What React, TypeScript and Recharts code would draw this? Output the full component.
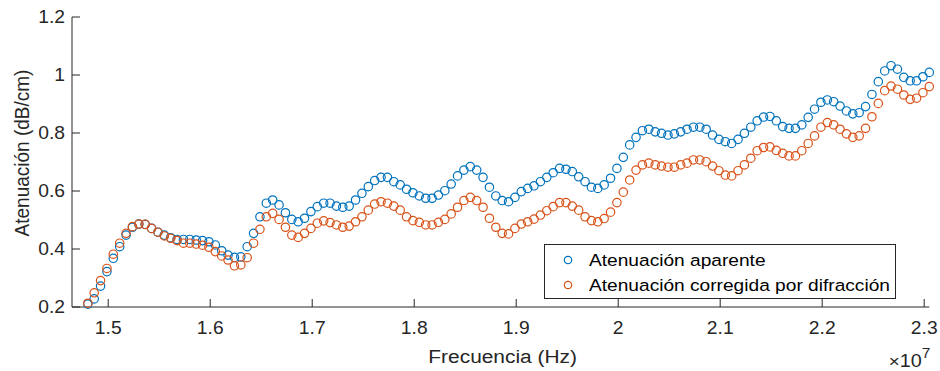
import React from 'react';
import { ScatterChart, Scatter, XAxis, YAxis, Legend } from 'recharts';

// frecuencia en MHz (eje en Hz x10^7)
const freqMHz = [
  14.8, 14.8625, 14.925, 14.9875, 15.05, 15.1125, 15.175, 15.2375, 15.3, 15.3625,
  15.425, 15.4875, 15.55, 15.6125, 15.675, 15.7375, 15.8, 15.8625, 15.925, 15.9875,
  16.05, 16.1125, 16.175, 16.2375, 16.3, 16.3625, 16.425, 16.4875, 16.55, 16.6125,
  16.675, 16.7375, 16.8, 16.8625, 16.925, 16.9875, 17.05, 17.1125, 17.175, 17.2375,
  17.3, 17.3625, 17.425, 17.4875, 17.55, 17.6125, 17.675, 17.7375, 17.8, 17.8625,
  17.925, 17.9875, 18.05, 18.1125, 18.175, 18.2375, 18.3, 18.3625, 18.425, 18.4875,
  18.55, 18.6125, 18.675, 18.7375, 18.8, 18.8625, 18.925, 18.9875, 19.05, 19.1125,
  19.175, 19.2375, 19.3, 19.3625, 19.425, 19.4875, 19.55, 19.6125, 19.675, 19.7375,
  19.8, 19.8625, 19.925, 19.9875, 20.05, 20.1125, 20.175, 20.2375, 20.3, 20.3625,
  20.425, 20.4875, 20.55, 20.6125, 20.675, 20.7375, 20.8, 20.8625, 20.925, 20.9875,
  21.05, 21.1125, 21.175, 21.2375, 21.3, 21.3625, 21.425, 21.4875, 21.55, 21.6125,
  21.675, 21.7375, 21.8, 21.8625, 21.925, 21.9875, 22.05, 22.1125, 22.175, 22.2375,
  22.3, 22.3625, 22.425, 22.4875, 22.55, 22.6125, 22.675, 22.7375, 22.8, 22.8625,
  22.925, 22.9875, 23.05,
];

const atenAparente = [
  0.21, 0.228, 0.272, 0.322, 0.368, 0.408, 0.448, 0.475, 0.486, 0.485,
  0.471, 0.458, 0.448, 0.439, 0.433, 0.433, 0.433, 0.431, 0.429, 0.425,
  0.414, 0.394, 0.379, 0.371, 0.373, 0.408, 0.454, 0.511, 0.558, 0.569,
  0.552, 0.525, 0.502, 0.494, 0.506, 0.529, 0.546, 0.558, 0.558, 0.548,
  0.544, 0.548, 0.569, 0.592, 0.615, 0.636, 0.647, 0.647, 0.632, 0.621,
  0.606, 0.594, 0.583, 0.575, 0.575, 0.586, 0.601, 0.624, 0.652, 0.672,
  0.684, 0.672, 0.647, 0.613, 0.583, 0.567, 0.563, 0.578, 0.598, 0.609,
  0.618, 0.632, 0.647, 0.663, 0.678, 0.675, 0.667, 0.649, 0.632, 0.613,
  0.609, 0.621, 0.644, 0.678, 0.716, 0.759, 0.785, 0.808, 0.813, 0.804,
  0.799, 0.793, 0.797, 0.804, 0.813, 0.82, 0.82, 0.813, 0.793, 0.778,
  0.77, 0.764, 0.778, 0.799, 0.82, 0.842, 0.855, 0.857, 0.842, 0.822,
  0.816, 0.816, 0.828, 0.854, 0.882, 0.906, 0.914, 0.908, 0.893, 0.876,
  0.866, 0.87, 0.891, 0.933, 0.977, 1.014, 1.032, 1.02, 0.992, 0.98,
  0.98, 0.994, 1.009,
];

const atenCorregida = [
  0.213, 0.249, 0.291, 0.333, 0.382, 0.42, 0.454, 0.477, 0.486, 0.485,
  0.471, 0.458, 0.445, 0.437, 0.429, 0.42, 0.42, 0.417, 0.413, 0.406,
  0.391, 0.376, 0.362, 0.342, 0.345, 0.37, 0.42, 0.468, 0.511, 0.523,
  0.502, 0.475, 0.448, 0.44, 0.454, 0.471, 0.489, 0.497, 0.491, 0.483,
  0.475, 0.479, 0.494, 0.511, 0.534, 0.555, 0.563, 0.558, 0.548, 0.534,
  0.511, 0.498, 0.492, 0.483, 0.483, 0.492, 0.502, 0.521, 0.544, 0.567,
  0.578, 0.567, 0.544, 0.506, 0.475, 0.454, 0.452, 0.471, 0.486, 0.494,
  0.503, 0.517, 0.532, 0.546, 0.56, 0.56, 0.548, 0.534, 0.511, 0.498,
  0.494, 0.505, 0.527, 0.56, 0.596, 0.638, 0.672, 0.69, 0.696, 0.69,
  0.686, 0.682, 0.682, 0.69, 0.696, 0.707, 0.707, 0.701, 0.686, 0.67,
  0.655, 0.652, 0.67, 0.69, 0.713, 0.739, 0.75, 0.752, 0.74, 0.73,
  0.721, 0.721, 0.739, 0.764, 0.79, 0.82, 0.836, 0.828, 0.813, 0.797,
  0.785, 0.79, 0.816, 0.856, 0.902, 0.946, 0.962, 0.951, 0.931, 0.916,
  0.92, 0.939, 0.96,
];

const xTicks = [15, 16, 17, 18, 19, 20, 21, 22, 23];
const yTicks = [0.2, 0.4, 0.6, 0.8, 1, 1.2];

const BLUE = '#0072BD';
const ORANGE = '#D95319';
const AXIS = '#262626';
const FONT = '"Liberation Sans", Arial, Helvetica, sans-serif';
const STRETCH = 1.1; // el original esta estirado en horizontal

const dataAparente = freqMHz.map((f, i) => ({ f, v: atenAparente[i] }));
const dataCorregida = freqMHz.map((f, i) => ({ f, v: atenCorregida[i] }));

const ring = (color: string) => (p: any) => (
  <circle cx={p.cx} cy={p.cy} r={4.2} fill="none" stroke={color} strokeWidth={1.2} />
);

const XTick = (props: any) => {
  const { x, y, payload } = props;
  return (
    <g transform={`translate(${x},${y}) scale(${STRETCH},1)`}>
      <text x={0} y={0} dy="0.71em" textAnchor="middle" fill={AXIS} fontSize={17.5} fontFamily={FONT}>
        {String(payload.value / 10)}
      </text>
    </g>
  );
};

const YTick = (props: any) => {
  const { x, y, payload } = props;
  return (
    <g transform={`translate(${x},${y}) scale(${STRETCH},1)`}>
      <text x={0} y={0} dy="0.355em" textAnchor="end" fill={AXIS} fontSize={17.5} fontFamily={FONT}>
        {String(payload.value)}
      </text>
    </g>
  );
};

const XLabel = (props: any) => {
  const vb = props.viewBox;
  const cx = vb.x + vb.width / 2 + 2;
  const right = vb.x + vb.width + 1;
  return (
    <g>
      <g transform={`translate(${cx},${vb.y + 56}) scale(${STRETCH},1)`}>
        <text textAnchor="middle" fill={AXIS} fontSize={19} fontFamily={FONT}>
          Frecuencia (Hz)
        </text>
      </g>
      <g transform={`translate(${right},${vb.y + 60}) scale(${STRETCH},1)`}>
        <text textAnchor="end" fill={AXIS} fontSize={18} fontFamily={FONT}>
          <tspan fontSize={17}>×</tspan>10<tspan dy={-9} fontSize={14}>7</tspan>
        </text>
      </g>
    </g>
  );
};

const YLabel = (props: any) => {
  const vb = props.viewBox;
  return (
    <g transform={`translate(${vb.x + 28.5},${vb.y + vb.height / 2 - 9}) scale(${STRETCH},1) rotate(-90)`}>
      <text textAnchor="middle" fill={AXIS} fontSize={19} fontFamily={FONT}>
        Atenuación (dB/cm)
      </text>
    </g>
  );
};

const LegendBox = (props: any) => {
  const { payload } = props;
  return (
    <div
      style={{
        boxSizing: 'border-box',
        width: 352,
        height: 55,
        border: `1px solid ${AXIS}`,
        background: '#fff',
        position: 'relative',
        fontFamily: FONT,
      }}
    >
      {(payload || []).map((entry: any, i: number) => (
        <div key={entry.value} style={{ position: 'absolute', left: 0, top: 5 + i * 25, height: 20, width: 350 }}>
          <svg width={14} height={20} style={{ position: 'absolute', left: 16, top: 0 }}>
            <circle cx={7} cy={10} r={3.7} fill="none" stroke={entry.color} strokeWidth={1.2} />
          </svg>
          <span
            style={{
              position: 'absolute',
              left: 44,
              top: 0,
              lineHeight: '20px',
              fontSize: 17.4,
              color: '#000',
              whiteSpace: 'nowrap',
              transform: `scaleX(${STRETCH})`,
              transformOrigin: 'left center',
            }}
          >
            {entry.value}
          </span>
        </div>
      ))}
    </div>
  );
};

export default function App() {
  return (
    <div style={{ position: 'absolute', left: 0, top: 0, background: '#fff' }}>
      <ScatterChart width={940} height={371} margin={{ top: 17, right: 10.7, bottom: 0, left: 0 }}>
        <XAxis
          type="number"
          dataKey="f"
          domain={[14.645, 23.05]}
          ticks={xTicks}
          interval={0}
          height={64}
          tickSize={-8}
          tickMargin={23}
          tick={<XTick />}
          axisLine={{ stroke: AXIS, strokeWidth: 1 }}
          tickLine={{ stroke: AXIS, strokeWidth: 1 }}
          label={<XLabel />}
        />
        <YAxis
          type="number"
          dataKey="v"
          domain={[0.2, 1.2]}
          ticks={yTicks}
          interval={0}
          width={72}
          tickSize={-8}
          tickMargin={15}
          tick={<YTick />}
          axisLine={{ stroke: AXIS, strokeWidth: 1 }}
          tickLine={{ stroke: AXIS, strokeWidth: 1 }}
          label={<YLabel />}
        />
        <Legend
          layout="vertical"
          align="center"
          verticalAlign="middle"
          wrapperStyle={{ left: 544, top: 244, width: 352, height: 55 }}
          content={<LegendBox />}
        />
        <Scatter
          name="Atenuación aparente"
          data={dataAparente}
          fill={BLUE}
          shape={ring(BLUE)}
          isAnimationActive={false}
        />
        <Scatter
          name="Atenuación corregida por difracción"
          data={dataCorregida}
          fill={ORANGE}
          shape={ring(ORANGE)}
          isAnimationActive={false}
        />
      </ScatterChart>
    </div>
  );
}
